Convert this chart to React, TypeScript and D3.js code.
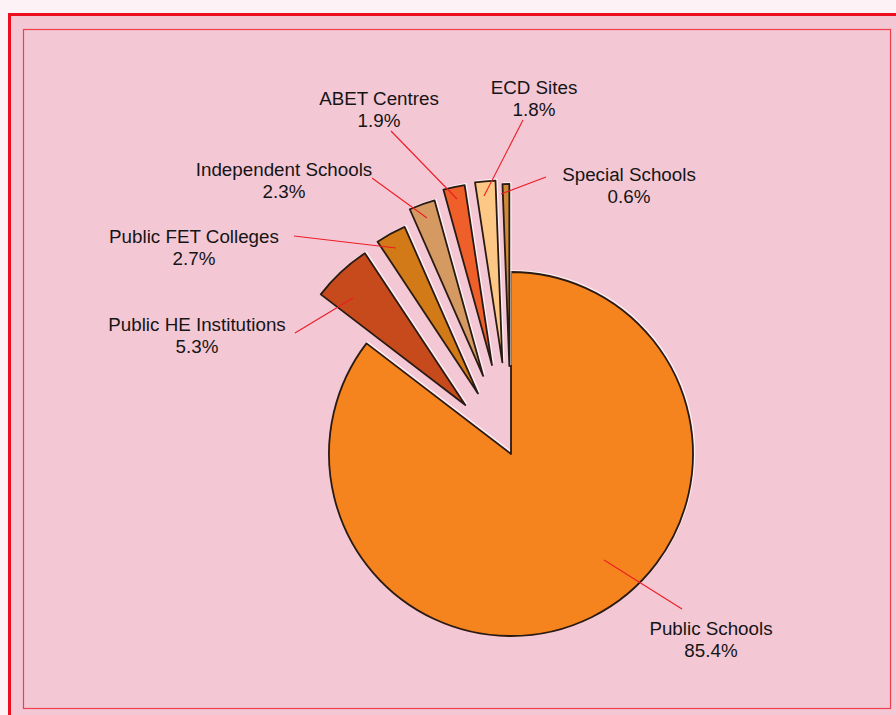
import React from "react";
import * as d3 from "d3";

const categories = [
  "Public Schools",
  "Public HE Institutions",
  "Public FET Colleges",
  "Independent Schools",
  "ABET Centres",
  "ECD Sites",
  "Special Schools",
];
const values = [85.4, 5.3, 2.7, 2.3, 1.9, 1.8, 0.6];
const valueLabels = ["85.4%", "5.3%", "2.7%", "2.3%", "1.9%", "1.8%", "0.6%"];

// styling
const colors = ["#f5841f", "#c74a1c", "#d27a18", "#d59a62", "#ee5f2a", "#fdc885", "#cf8a38"];
const explode = [0, 67, 69, 83, 91, 92, 88];
// label layout: text centre x, first baseline y, leader start, leader end
const labelLayout = [
  { x: 711, y: 635, l: [682, 609, 604, 560] },
  { x: 197, y: 331, l: [295, 333, 353, 298] },
  { x: 194, y: 243, l: [294, 236, 396, 248] },
  { x: 284, y: 176, l: [372, 178, 427, 218] },
  { x: 379, y: 105, l: [391, 131, 457, 199] },
  { x: 534, y: 94, l: [523, 120, 484, 196] },
  { x: 629, y: 181, l: [546, 177, 501, 194] },
];

const W = 896;
const H = 715;
const cx = 511;
const cy = 454;
const R = 182;

export default function App() {
  const pie = d3
    .pie<number>()
    .sort(null)
    .value((d) => d)
    .startAngle(0)
    .endAngle(2 * Math.PI);
  const arcs = pie(values);
  const arc = d3.arc<d3.PieArcDatum<number>>().innerRadius(0).outerRadius(R);

  return (
    <svg
      width={W}
      height={H}
      style={{ position: "absolute", left: 0, top: 0 }}
      fontFamily="'Liberation Sans', Arial, sans-serif"
    >
      <rect x={0} y={0} width={W} height={H} fill="#fdf3f6" />
      <rect x={9.5} y={14.5} width={W} height={H} fill="#f4c7d5" stroke="#ec0f1f" strokeWidth={3} />
      <rect x={23.5} y={29.5} width={867} height={679} fill="#f4c7d5" stroke="#f0404e" strokeWidth={1.2} />
      <g transform={`translate(${cx},${cy})`}>
        {arcs.map((a, i) => {
          const mid = (a.startAngle + a.endAngle) / 2;
          const dx = Math.sin(mid) * explode[i];
          const dy = -Math.cos(mid) * explode[i];
          return (
            <g key={i} transform={`translate(${dx},${dy})`}>
              <path d={arc(a) || ""} fill="none" stroke="#ffffff" strokeOpacity={0.7} strokeWidth={2} transform="translate(1.2,-1)" />
              <path d={arc(a) || ""} fill={colors[i]} stroke="#2a1a12" strokeWidth={1.8} strokeLinejoin="round" />
            </g>
          );
        })}
      </g>
      {labelLayout.map((L, i) => (
        <g key={i}>
          <line x1={L.l[0]} y1={L.l[1]} x2={L.l[2]} y2={L.l[3]} stroke="#ee1c25" strokeWidth={1.1} />
          <text x={L.x} y={L.y} textAnchor="middle" fontSize={18.8} fill="#151515">
            {categories[i]}
          </text>
          <text x={L.x} y={L.y + 22} textAnchor="middle" fontSize={18.8} fill="#151515">
            {valueLabels[i]}
          </text>
        </g>
      ))}
    </svg>
  );
}
